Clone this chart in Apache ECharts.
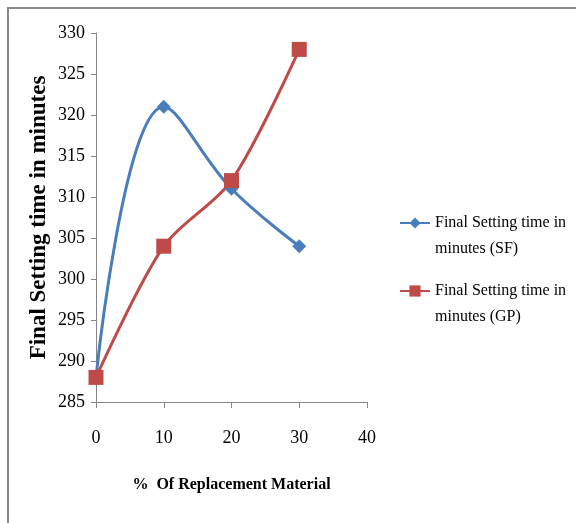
<!DOCTYPE html>
<html>
<head>
<meta charset="utf-8">
<script src="https://cdn.jsdelivr.net/npm/echarts@6/dist/echarts.min.js"></script>
<style>
html, body { margin: 0; padding: 0; background: #fff; }
#con { width: 576px; height: 523px; }
</style>
</head>
<body>
<div id="con"></div>
<script>
var replacement = [0, 10, 20, 30];//% 替代材料
var sfTime = [288, 321, 311, 304];//SF
var gpTime = [288, 304, 312, 328];//GP
var sfName = 'Final Setting time in minutes (SF)';
var gpName = 'Final Setting time in minutes (GP)';

function pairs(xs, ys) {
	var out = [];
	for (var i = 0; i < xs.length; i++) {
		out.push([xs[i], ys[i]]);
	}
	return out;
}

var myChart = echarts.init(document.getElementById('con'));
var font = 'Liberation Serif';

var legendText = {
	fontFamily: font,
	fontSize: 16,
	color: '#000',
	lineHeight: 26
};
//空行放在上面, 图标就对齐第一行
function legendFmt(name) {
	return ' \n' + name.replace(' minutes', '\nminutes');
}

var option = {
	animation: false,
	grid: {
		left: 96,
		top: 33,
		width: 271,
		height: 369
	},
	graphic: [{
		type: 'rect',
		shape: { x: 8, y: 8, width: 640, height: 640 },
		style: { fill: 'none', stroke: '#8a8a8a', lineWidth: 2 },
		silent: true
	}],
	legend: [{
		data: [sfName],
		orient: 'vertical',
		left: 399,
		top: 184,
		padding: 0,
		itemWidth: 30,
		itemHeight: 14,
		formatter: legendFmt,
		textStyle: legendText
	}, {
		data: [gpName],
		orient: 'vertical',
		left: 399,
		top: 252,
		padding: 0,
		itemWidth: 30,
		itemHeight: 14,
		formatter: legendFmt,
		textStyle: legendText
	}],
	xAxis: {
		type: 'value',
		min: 0,
		max: 40,
		interval: 10,
		name: '%  Of Replacement Material',
		nameLocation: 'middle',
		nameGap: 75,
		nameTextStyle: { fontFamily: font, fontSize: 16, fontWeight: 'bold', color: '#000' },
		axisLine: { show: true, lineStyle: { color: '#868686', width: 1 } },
		axisTick: { show: true, length: 6, lineStyle: { color: '#868686' } },
		axisLabel: { margin: 27, fontFamily: font, fontSize: 18, color: '#000' },
		splitLine: { show: false }
	},
	yAxis: {
		type: 'value',
		min: 285,
		max: 330,
		interval: 5,
		name: 'Final Setting time in minutes',
		nameLocation: 'middle',
		nameGap: 45,
		nameTextStyle: { fontFamily: font, fontSize: 23, fontWeight: 'bold', color: '#000' },
		axisLine: { show: true, lineStyle: { color: '#868686', width: 1 } },
		axisTick: { show: true, length: 5, lineStyle: { color: '#868686' } },
		axisLabel: { margin: 11, fontFamily: font, fontSize: 18, color: '#000' },
		splitLine: { show: false }
	},
	series: [{
		name: sfName,
		type: 'line',
		smooth: 0.4,
		data: pairs(replacement, sfTime),
		symbol: 'diamond',
		symbolSize: 14,
		lineStyle: { color: '#4a7ebb', width: 3 },
		itemStyle: { color: '#4a7ebb' }
	}, {
		name: gpName,
		type: 'line',
		smooth: 0.3,
		data: pairs(replacement, gpTime),
		symbol: 'rect',
		symbolSize: 15,
		lineStyle: { color: '#be4b48', width: 3 },
		itemStyle: { color: '#be4b48' }
	}]
};

myChart.setOption(option);
window.onresize = myChart.resize;
</script>
</body>
</html>
